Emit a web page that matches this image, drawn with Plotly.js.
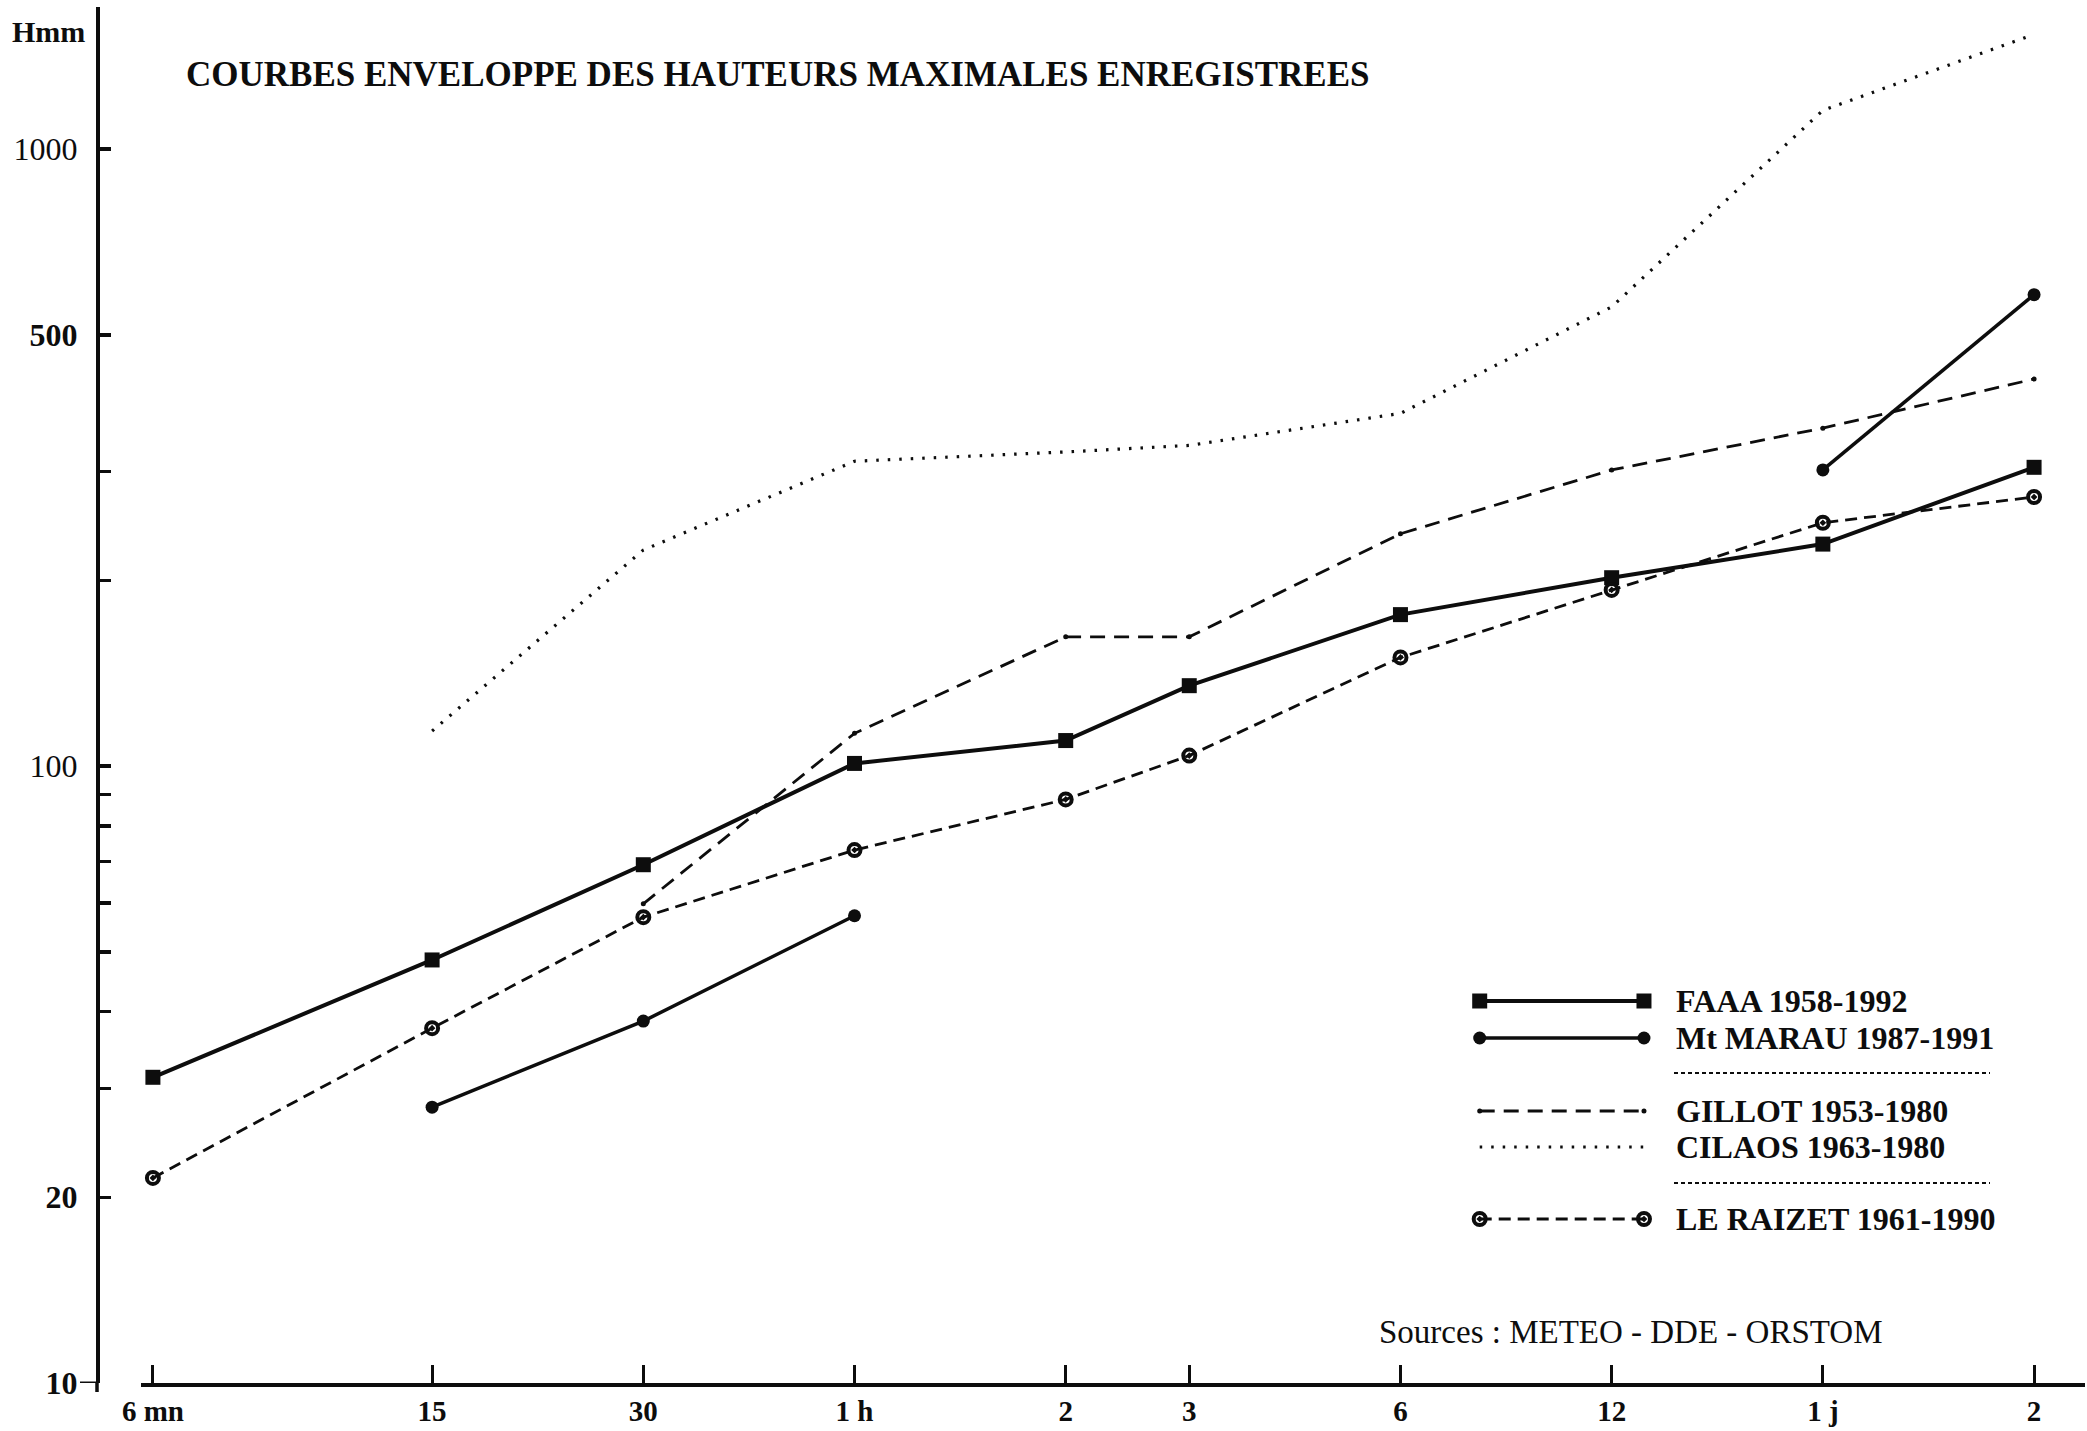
<!DOCTYPE html>
<html>
<head>
<meta charset="utf-8">
<script src="https://cdn.plot.ly/plotly-3.0.1.min.js"></script>
<style>
  html, body { margin: 0; padding: 0; background: #ffffff; }
  #chart { width: 2087px; height: 1431px; }
</style>
</head>
<body>
<div id="chart"></div>
<script>
// Durations in minutes (log x axis) and their printed labels
const durations = [6, 15, 30, 60, 120, 180, 360, 720, 1440, 2880];
const durationLabels = ['6 mn', '15', '30', '1 h', '2', '3', '6', '12', '1 j', '2'];

// Maximum recorded rainfall heights (mm) per station
const faaa   = [31.3, 48.5, 69.2, 101, 110, 135, 176, 202, 229, 305];
const marau  = [null, 28.0, 38.6, 57.2, null, null, null, null, 302, 581];
const gillot = [null, null, 59.8, 113, 162, 162, 238, 302, 353, 424];
const cilaos = [null, 114, 224, 312, 323, 331, 373, 555, 1156, 1535];
const raizet = [21.5, 37.6, 56.9, 73.1, 88.3, 104, 150, 193, 248, 273];

const stationNames = ['FAAA 1958-1992', 'Mt MARAU 1987-1991', 'GILLOT 1953-1980',
                      'CILAOS 1963-1980', 'LE RAIZET 1961-1990'];

// Y axis ticks (mm)
const yTickVals = [10, 20, 30, 40, 50, 60, 70, 80, 90, 100, 200, 300, 500, 1000];
const yTickText = ['<b>10</b>', '<b>20</b>', '', '', '', '', '', '', '', '100', '', '', '<b>500</b>', '1000'];

const titleText = 'COURBES ENVELOPPE DES HAUTEURS MAXIMALES ENREGISTREES';
const unitText = 'Hmm';
const sourceText = 'Sources : METEO - DDE - ORSTOM';

// ---- styling ----
const SERIF = 'Liberation Serif, Times New Roman, serif';
const INK = '#0d0d0d';

const styles = [
  { line: { color: INK, width: 4, dash: 'solid' },
    marker: { symbol: 'square', size: 15, color: INK } },
  { line: { color: INK, width: 3.5, dash: 'solid' },
    marker: { symbol: 'circle', size: 13, color: INK } },
  { line: { color: INK, width: 2.8, dash: '15px,9px' },
    marker: { symbol: 'circle', size: 5, color: INK } },
  { line: { color: INK, width: 3.2, dash: '2.5px,9px' },
    marker: { symbol: 'circle', size: 1, color: 'rgba(0,0,0,0)' } },
  { line: { color: INK, width: 2.8, dash: '12px,7px' },
    marker: { symbol: 'circle-open-dot', size: 12, color: INK, line: { color: INK, width: 4 } } }
];
const seriesValues = [faaa, marau, gillot, cilaos, raizet];

// plot area in page pixels, used to place the key and texts
const L = 97, R = 2085, T = 7, B = 1383;
const fx = p => (p - L) / (R - L);
const fy = p => (B - p) / (B - T);

const traces = seriesValues.map((vals, i) => ({
  type: 'scatter',
  mode: i === 3 ? 'lines' : 'lines+markers',
  x: durations,
  y: vals,
  name: stationNames[i],
  connectgaps: false,
  line: styles[i].line,
  marker: styles[i].marker,
  cliponaxis: false,
  showlegend: false,
  hoverinfo: 'x+y+name'
}));

// key: sample strokes drawn on an overlay axis pair spanning the plot area
const keyRows = [1001, 1038, 1111, 1147, 1219];
const keyX0 = 1466, keyX1 = 1634, keyTextX = 1674;
keyRows.forEach((row, i) => {
  traces.push({
    type: 'scatter',
    mode: i === 3 ? 'lines' : 'lines+markers',
    x: [fx(keyX0), fx(keyX1)],
    y: [fy(row), fy(row)],
    xaxis: 'x2', yaxis: 'y2',
    line: styles[i].line,
    marker: styles[i].marker,
    cliponaxis: false,
    showlegend: false,
    hoverinfo: 'skip'
  });
});

const annotations = [
  { text: '<b>' + titleText + '</b>', xref: 'paper', yref: 'paper',
    x: fx(184), y: fy(74), xanchor: 'left', yanchor: 'middle', showarrow: false,
    font: { family: SERIF, size: 35, color: INK } },
  { text: '<b>' + unitText + '</b>', xref: 'paper', yref: 'paper',
    x: fx(10), y: fy(31), xanchor: 'left', yanchor: 'middle', showarrow: false,
    font: { family: SERIF, size: 30, color: INK } },
  { text: sourceText, xref: 'paper', yref: 'paper',
    x: fx(1377), y: fy(1332), xanchor: 'left', yanchor: 'middle', showarrow: false,
    font: { family: SERIF, size: 33, color: INK } }
];
keyRows.forEach((row, i) => {
  annotations.push({
    text: '<b>' + stationNames[i] + '</b>', xref: 'paper', yref: 'paper',
    x: fx(keyTextX), y: fy(row), xanchor: 'left', yanchor: 'middle', showarrow: false,
    font: { family: SERIF, size: 32, color: INK }
  });
});

const shapes = [
  // key separators
  { type: 'line', xref: 'paper', yref: 'paper', x0: fx(1674), x1: fx(1990), y0: fy(1073), y1: fy(1073),
    line: { color: INK, width: 1.8, dash: '4px,3px' } },
  { type: 'line', xref: 'paper', yref: 'paper', x0: fx(1674), x1: fx(1990), y0: fy(1183), y1: fy(1183),
    line: { color: INK, width: 1.8, dash: '4px,3px' } },
  // left stub of the 10 mm tick and foot of the vertical axis
  { type: 'line', xref: 'paper', yref: 'y', x0: fx(80), x1: fx(L), y0: 10, y1: 10,
    line: { color: INK, width: 3 } },
  { type: 'line', xref: 'paper', yref: 'paper', x0: 0, x1: 0, y0: fy(B), y1: fy(1392),
    line: { color: INK, width: 3.5 } }
];

const layout = {
  width: 2087, height: 1431,
  margin: { l: L, r: 2087 - R, t: T, b: 1431 - B, pad: 0 },
  paper_bgcolor: '#ffffff', plot_bgcolor: '#ffffff',
  font: { family: SERIF, color: INK },
  showlegend: false,
  xaxis: {
    type: 'log',
    domain: [fx(141), 1],
    range: [Math.log10(5.77), Math.log10(3404)],
    tickvals: durations, ticktext: durationLabels.map(t => '<b>' + t + '</b>'),
    tickfont: { family: SERIF, size: 29, color: INK },
    ticks: 'inside', ticklen: 18, tickwidth: 3, tickcolor: INK,
    showline: true, linewidth: 3.5, linecolor: INK,
    showgrid: false, zeroline: false, anchor: 'y',
    ticklabelstandoff: 0
  },
  yaxis: {
    type: 'log',
    range: [1, Math.log10(1700)],
    tickvals: yTickVals, ticktext: yTickText,
    tickfont: { family: SERIF, size: 32, color: INK },
    ticks: 'inside', ticklen: 11, tickwidth: 3.5, tickcolor: INK,
    showline: true, linewidth: 3.5, linecolor: INK,
    showgrid: false, zeroline: false,
    anchor: 'free', position: 0,
    ticklabelstandoff: 12
  },
  xaxis2: { domain: [0, 1], range: [0, 1], overlaying: 'x', visible: false, anchor: 'y2' },
  yaxis2: { domain: [0, 1], range: [0, 1], overlaying: 'y', visible: false, anchor: 'x2' },
  annotations: annotations,
  shapes: shapes
};

Plotly.newPlot('chart', traces, layout, { displayModeBar: false, staticPlot: true });
</script>
</body>
</html>
